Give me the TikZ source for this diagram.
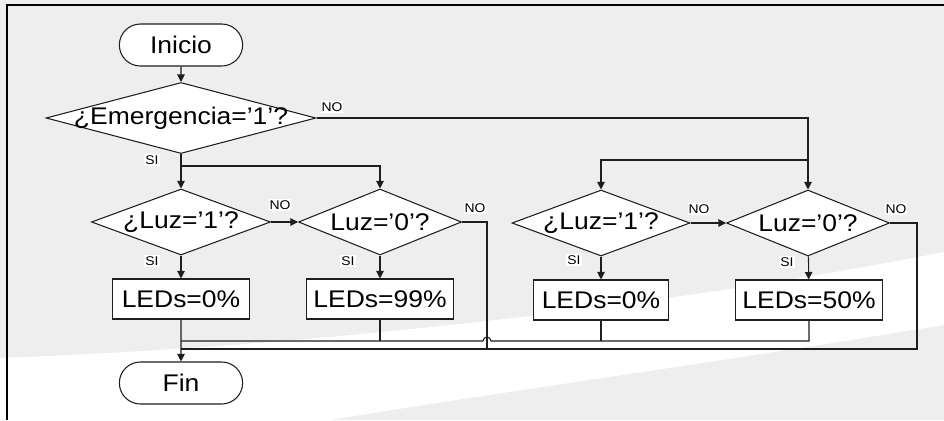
\documentclass[tikz,border=0pt]{standalone}
\usepackage{fontspec}
\setmainfont{Liberation Sans}[FakeStretch=1.1]
\usetikzlibrary{arrows.meta,positioning,shapes.geometric,shapes.misc}

\definecolor{bggray}{HTML}{EEEEEE}
\definecolor{ink}{HTML}{1E1E1E}

\begin{document}
\begin{tikzpicture}[
    x=0.02cm, y=-0.02cm,
    line width=0.6pt,
    term/.style={draw=ink, fill=white, rounded rectangle, minimum width=2.7cm, minimum height=0.84cm, font=\fontsize{13.7}{16}\selectfont},
    decision/.style={draw=ink, fill=white, diamond, inner sep=0pt, minimum height=1.32cm, font=\fontsize{13.7}{16}\selectfont},
    box/.style={draw=ink, fill=white, minimum height=0.8cm, inner sep=2pt, font=\fontsize{13.7}{16}\selectfont},
    arrow/.style={-{Triangle[length=1.5mm,width=1.5mm]}, draw=ink},
    lbl/.style={fill=white, inner sep=0.6pt, font=\fontsize{7.2}{8}\selectfont}
]
% Background
\useasboundingbox (0,0) rectangle (944,420);
\fill[bggray] (0,0) rectangle (944,420);
\fill[white] (0,358) .. controls (350,345) and (700,300) .. (944,252) -- (944,325)
    .. controls (700,365) and (480,395) .. (330,420) -- (0,420) -- cycle;
\draw[line width=1.7pt, black] (7,420) -- (7,5) -- (944,5);

% Start and first test
\node[term] (ini) at (181,45) {Inicio};
\node[decision, minimum width=5.4cm, minimum height=1.42cm] (emer) at (181,118) {\makebox[0pt]{¿Emergencia='1'?}};

% Tests on light
\node[decision, minimum width=3.58cm] (luzA) at (181,222) {\makebox[0pt]{¿Luz='1'?}};
\node[decision, minimum width=3.26cm] (luzB) at (380,222) {\makebox[0pt]{Luz='0'?}};
\node[decision, minimum width=3.56cm] (luzC) at (601,223) {\makebox[0pt]{¿Luz='1'?}};
\node[decision, minimum width=3.26cm] (luzD) at (808,223) {\makebox[0pt]{Luz='0'?}};

% Outputs
\node[box, minimum width=2.74cm] (ledA) at (181,299) {LEDs=0\%};
\node[box, minimum width=2.94cm] (ledB) at (380,299) {LEDs=99\%};
\node[box, minimum width=2.7cm]  (ledC) at (601,300) {LEDs=0\%};
\node[box, minimum width=2.94cm] (ledD) at (809,300) {LEDs=50\%};

\node[term] (fin) at (181,383) {Fin};

% Helper points
\coordinate (splitL) at (181,166);
\coordinate (splitR) at (808,160);
\coordinate (noB) at (487,222);
\coordinate (noD) at (917,223);
\coordinate (busU) at (181,341);
\coordinate (busL) at (181,349);
\coordinate (hop) at (491,341);

% Arrows
\draw[arrow] (ini) -- (emer);
\draw[arrow] (emer) -- (luzA);
\draw[arrow] (splitL) -| (luzB);
\draw[arrow] (emer.east) -| (luzD);
\draw[arrow] (splitR) -| (luzC);
\draw[arrow] (luzA.east) -- (luzB.west);
\draw[arrow] (luzC.east) -- (luzD.west);
\draw[arrow] (luzA) -- (ledA);
\draw[arrow] (luzB) -- (ledB);
\draw[arrow] (luzC) -- (ledC);
\draw[arrow] (luzD) -- (ledD);

% Merging lines
\draw[draw=ink] (ledD.south) |- (hop) arc[start angle=0, end angle=180, radius=0.08cm] -- (busU);
\draw[draw=ink] (ledC) -- (ledC |- busU);
\draw[draw=ink] (ledB) -- (ledB |- busU);
\draw[draw=ink] (luzB.east) -- (noB) -- (noB |- busL);
\draw[draw=ink] (luzD.east) -- (noD) |- (busL);
\draw[arrow] (ledA) -- (fin);

% Branch labels
\node[lbl] (noE) at (332,107) {NO};
\node[lbl] (siE) at (152,160) {SI};
\node[lbl] (noLA) at (280,205) {NO};
\node[lbl] (noLB) at (475,208) {NO};
\node[lbl] (noLC) at (699,209) {NO};
\node[lbl] (noLD) at (896,209) {NO};
\node[lbl] (siLA) at (152,261) {SI};
\node[lbl] (siLB) at (348,261) {SI};
\node[lbl] (siLC) at (574,260) {SI};
\node[lbl] (siLD) at (787,262) {SI};

\end{tikzpicture}
\end{document}
